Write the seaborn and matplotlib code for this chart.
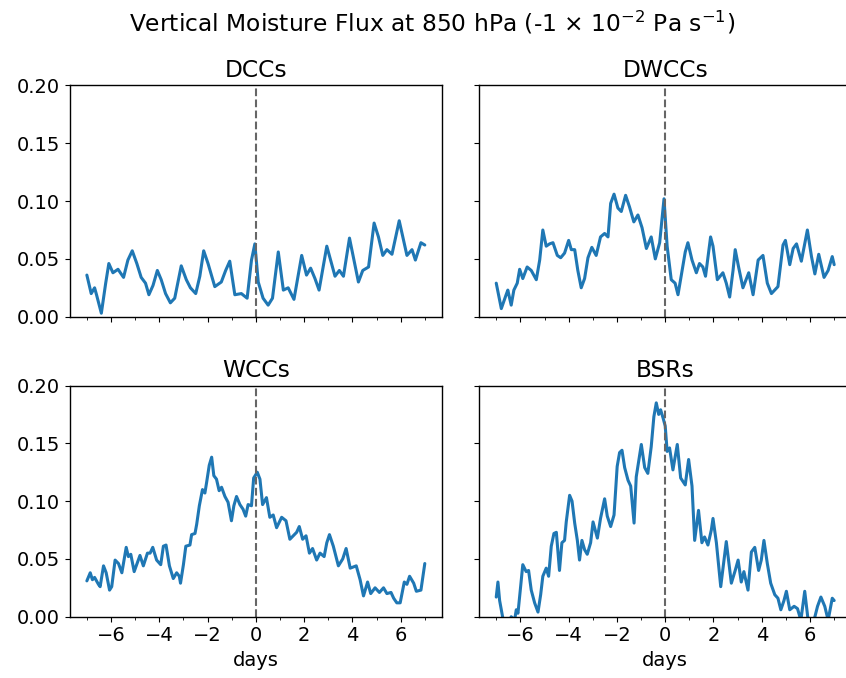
import numpy as np
import pandas as pd
import seaborn as sns
import matplotlib.pyplot as plt
from matplotlib.ticker import MultipleLocator, FormatStrFormatter

# composite values (days relative to event, flux)
dcc_days = [-7, -6.82, -6.68, -6.6, -6.4, -6.22, -6.09, -5.92, -5.71, -5.48,
            -5.3, -5.12, -4.93, -4.75, -4.57, -4.43, -4.26, -4.08, -3.92, -3.74,
            -3.54, -3.36, -3.09, -2.88, -2.71, -2.49, -2.32, -2.16, -1.98, -1.7,
            -1.43, -1.25, -1.08, -0.87, -0.6, -0.36, -0.18, -0.04, 0.1, 0.3,
            0.51, 0.69, 0.93, 1.14, 1.34, 1.58, 1.9, 2.1, 2.27, 2.45,
            2.62, 2.94, 3.28, 3.46, 3.63, 3.88, 4.25, 4.43, 4.67, 4.9,
            5.08, 5.26, 5.43, 5.64, 5.94, 6.26, 6.47, 6.61, 6.84, 7.0]
dcc_flux = [0.036, 0.020, 0.025, 0.019, 0.003, 0.029, 0.046, 0.038, 0.041, 0.034,
            0.049, 0.057, 0.046, 0.034, 0.029, 0.019, 0.027, 0.040, 0.032, 0.020,
            0.012, 0.016, 0.044, 0.032, 0.025, 0.020, 0.035, 0.057, 0.046, 0.026,
            0.030, 0.040, 0.048, 0.019, 0.020, 0.016, 0.049, 0.063, 0.030, 0.016,
            0.010, 0.016, 0.056, 0.023, 0.025, 0.015, 0.053, 0.036, 0.042, 0.033,
            0.023, 0.061, 0.035, 0.040, 0.035, 0.068, 0.030, 0.040, 0.043, 0.081,
            0.069, 0.053, 0.058, 0.054, 0.083, 0.053, 0.058, 0.049, 0.064, 0.062]

dwcc_days = [-7, -6.79, -6.59, -6.52, -6.38, -6.27, -6.13, -6.03, -5.9, -5.72,
             -5.55, -5.34, -5.2, -5.07, -4.93, -4.79, -4.65, -4.47, -4.33, -4.17,
             -4.0, -3.89, -3.75, -3.62, -3.48, -3.34, -3.2, -3.04, -2.86, -2.68,
             -2.51, -2.37, -2.26, -2.12, -1.96, -1.82, -1.64, -1.48, -1.3, -1.13,
             -0.96, -0.78, -0.58, -0.41, -0.23, -0.05, 0.08, 0.25, 0.41, 0.53,
             0.66, 0.83, 0.94, 1.11, 1.29, 1.42, 1.56, 1.67, 1.88, 1.98,
             2.16, 2.39, 2.53, 2.67, 2.81, 2.9, 3.04, 3.22, 3.46, 3.64,
             3.85, 4.05, 4.23, 4.4, 4.67, 4.88, 4.98, 5.16, 5.3, 5.44,
             5.64, 5.89, 6.06, 6.2, 6.36, 6.58, 6.75, 6.92, 7.0]
dwcc_flux = [0.029, 0.007, 0.019, 0.023, 0.010, 0.023, 0.029, 0.041, 0.033, 0.043,
             0.040, 0.032, 0.049, 0.075, 0.061, 0.063, 0.064, 0.053, 0.051, 0.055,
             0.066, 0.058, 0.058, 0.040, 0.025, 0.033, 0.051, 0.060, 0.053, 0.069,
             0.072, 0.069, 0.098, 0.106, 0.094, 0.091, 0.105, 0.095, 0.082, 0.088,
             0.077, 0.059, 0.069, 0.050, 0.064, 0.102, 0.061, 0.032, 0.029, 0.019,
             0.035, 0.056, 0.064, 0.049, 0.038, 0.046, 0.043, 0.035, 0.069, 0.061,
             0.032, 0.038, 0.029, 0.017, 0.040, 0.058, 0.043, 0.025, 0.038, 0.019,
             0.049, 0.053, 0.029, 0.020, 0.026, 0.062, 0.066, 0.045, 0.059, 0.063,
             0.048, 0.075, 0.052, 0.037, 0.054, 0.034, 0.040, 0.052, 0.045]

wcc_days = [-7, -6.86, -6.77, -6.68, -6.52, -6.45, -6.31, -6.2, -6.06, -5.97,
            -5.83, -5.69, -5.55, -5.37, -5.28, -5.18, -5.04, -4.8, -4.66, -4.49,
            -4.38, -4.27, -4.11, -3.94, -3.83, -3.72, -3.58, -3.42, -3.28, -3.17,
            -3.12, -3.0, -2.9, -2.73, -2.66, -2.52, -2.45, -2.34, -2.21, -2.11,
            -2.04, -1.93, -1.83, -1.74, -1.63, -1.52, -1.42, -1.28, -1.15, -1.01,
            -0.91, -0.8, -0.66, -0.53, -0.42, -0.32, -0.18, -0.09, 0.06, 0.17,
            0.28, 0.44, 0.58, 0.72, 0.86, 1.07, 1.25, 1.41, 1.55, 1.69,
            1.8, 1.94, 2.08, 2.22, 2.35, 2.52, 2.66, 2.83, 2.94, 3.05,
            3.21, 3.42, 3.6, 3.74, 3.91, 4.16, 4.32, 4.46, 4.63, 4.76,
            4.94, 5.12, 5.29, 5.43, 5.6, 5.71, 5.84, 5.98, 6.15, 6.26,
            6.37, 6.54, 6.65, 6.84, 7.0]
wcc_flux = [0.031, 0.038, 0.032, 0.034, 0.028, 0.026, 0.044, 0.038, 0.023, 0.026,
            0.049, 0.046, 0.038, 0.060, 0.052, 0.054, 0.039, 0.053, 0.044, 0.055,
            0.055, 0.060, 0.049, 0.045, 0.061, 0.062, 0.044, 0.033, 0.038, 0.035,
            0.029, 0.045, 0.061, 0.062, 0.071, 0.072, 0.080, 0.096, 0.110, 0.107,
            0.116, 0.131, 0.138, 0.122, 0.119, 0.109, 0.112, 0.104, 0.099, 0.083,
            0.096, 0.104, 0.097, 0.093, 0.087, 0.097, 0.096, 0.120, 0.125, 0.119,
            0.097, 0.103, 0.086, 0.088, 0.077, 0.086, 0.083, 0.067, 0.070, 0.073,
            0.078, 0.067, 0.070, 0.055, 0.059, 0.049, 0.055, 0.052, 0.064, 0.071,
            0.061, 0.044, 0.050, 0.059, 0.042, 0.044, 0.032, 0.018, 0.030, 0.020,
            0.025, 0.021, 0.025, 0.020, 0.021, 0.016, 0.012, 0.012, 0.030, 0.028,
            0.035, 0.029, 0.022, 0.023, 0.046]

bsr_days = [-7, -6.93, -6.86, -6.72, -6.52, -6.38, -6.24, -6.17, -6.1, -5.99,
            -5.9, -5.76, -5.66, -5.55, -5.41, -5.27, -5.16, -5.07, -4.93, -4.83,
            -4.72, -4.61, -4.51, -4.38, -4.28, -4.17, -4.1, -3.96, -3.86, -3.75,
            -3.64, -3.55, -3.45, -3.34, -3.23, -3.09, -2.99, -2.81, -2.68, -2.51,
            -2.4, -2.26, -2.12, -1.99, -1.89, -1.79, -1.68, -1.54, -1.43, -1.29,
            -1.2, -0.99, -0.85, -0.72, -0.58, -0.47, -0.37, -0.27, -0.19, -0.09,
            0.0, 0.08, 0.18, 0.32, 0.5, 0.64, 0.83, 0.97, 1.11, 1.22,
            1.38, 1.52, 1.63, 1.77, 1.91, 1.98, 2.12, 2.3, 2.53, 2.74,
            2.9, 3.02, 3.15, 3.26, 3.43, 3.57, 3.71, 3.87, 3.98, 4.09,
            4.23, 4.37, 4.54, 4.67, 4.79, 4.92, 5.02, 5.16, 5.34, 5.48,
            5.62, 5.78, 5.92, 6.13, 6.31, 6.45, 6.61, 6.75, 6.92, 7.0]
bsr_flux = [0.017, 0.030, 0.014, -0.002, -0.008, 0.000, -0.003, 0.006, 0.003, 0.026,
            0.045, 0.039, 0.040, 0.023, 0.012, 0.004, 0.019, 0.035, 0.042, 0.035,
            0.061, 0.072, 0.073, 0.040, 0.064, 0.066, 0.082, 0.105, 0.100, 0.081,
            0.066, 0.049, 0.066, 0.058, 0.054, 0.064, 0.082, 0.068, 0.085, 0.102,
            0.087, 0.078, 0.088, 0.130, 0.142, 0.144, 0.129, 0.118, 0.113, 0.081,
            0.121, 0.149, 0.129, 0.124, 0.147, 0.173, 0.185, 0.175, 0.179, 0.172,
            0.165, 0.143, 0.146, 0.127, 0.149, 0.120, 0.114, 0.136, 0.113, 0.066,
            0.092, 0.064, 0.069, 0.062, 0.075, 0.085, 0.064, 0.026, 0.065, 0.029,
            0.040, 0.049, 0.030, 0.039, 0.023, 0.056, 0.060, 0.040, 0.049, 0.066,
            0.046, 0.029, 0.019, 0.016, 0.006, 0.014, 0.022, 0.006, 0.009, 0.007,
            -0.003, 0.022, -0.003, -0.006, 0.009, 0.017, 0.009, -0.003, 0.016, 0.014]

panel_names = ['DCCs', 'DWCCs', 'WCCs', 'BSRs']
panel_days = [dcc_days, dwcc_days, wcc_days, bsr_days]
panel_flux = [dcc_flux, dwcc_flux, wcc_flux, bsr_flux]

sns.set_style('ticks')
plt.rcParams['font.family'] = ['DejaVu Sans']
plt.rcParams['font.size'] = 14
plt.rcParams['text.color'] = 'black'
plt.rcParams['axes.labelcolor'] = 'black'

fig = plt.figure(figsize=(8.46, 6.78), dpi=100)

# axes boxes in figure fractions (right column runs past the cropped edge)
lefts = [0.0827, 0.5666, 0.0827, 0.5666]
bottoms = [0.5329, 0.5329, 0.0904, 0.0904]
w, h = 0.4394, 0.341

axes = []
for i in range(4):
    share = axes[0] if axes else None
    ax = fig.add_axes([lefts[i], bottoms[i], w, h], sharex=share, sharey=share)
    axes.append(ax)

for i, ax in enumerate(axes):
    df = pd.DataFrame({'days': panel_days[i], 'flux': panel_flux[i]})
    sns.lineplot(data=df, x='days', y='flux', ax=ax, color='#1f77b4',
                 linewidth=2.2, estimator=None, sort=False)
    ax.axvline(0, color='0.4', linestyle='--', linewidth=1.5)
    ax.set_title(panel_names[i], fontsize=16.8, color='black')
    ax.set_xlim(-7.7, 7.7)
    ax.set_ylim(0, 0.2)
    ax.xaxis.set_major_locator(MultipleLocator(2))
    ax.xaxis.set_minor_locator(MultipleLocator(1))
    ax.yaxis.set_major_locator(MultipleLocator(0.05))
    ax.yaxis.set_major_formatter(FormatStrFormatter('%.2f'))
    ax.tick_params(labelsize=14, colors='black', direction='out')
    ax.tick_params(which='minor', colors='black')
    ax.set_ylabel('')
    if i < 2:
        ax.set_xlabel('')
        ax.tick_params(labelbottom=False)
    else:
        ax.set_xlabel('days', fontsize=14)
    if i % 2 == 1:
        ax.tick_params(labelleft=False)
    for s in ax.spines.values():
        s.set_color('black')
        s.set_linewidth(1.0)

fig.text(0.511, 0.966, r'Vertical Moisture Flux at 850 hPa (-1 $\times$ 10$^{-2}$ Pa s$^{-1}$)',
         ha='center', va='center', fontsize=16.8)

fig.savefig('out.png', dpi=100)
